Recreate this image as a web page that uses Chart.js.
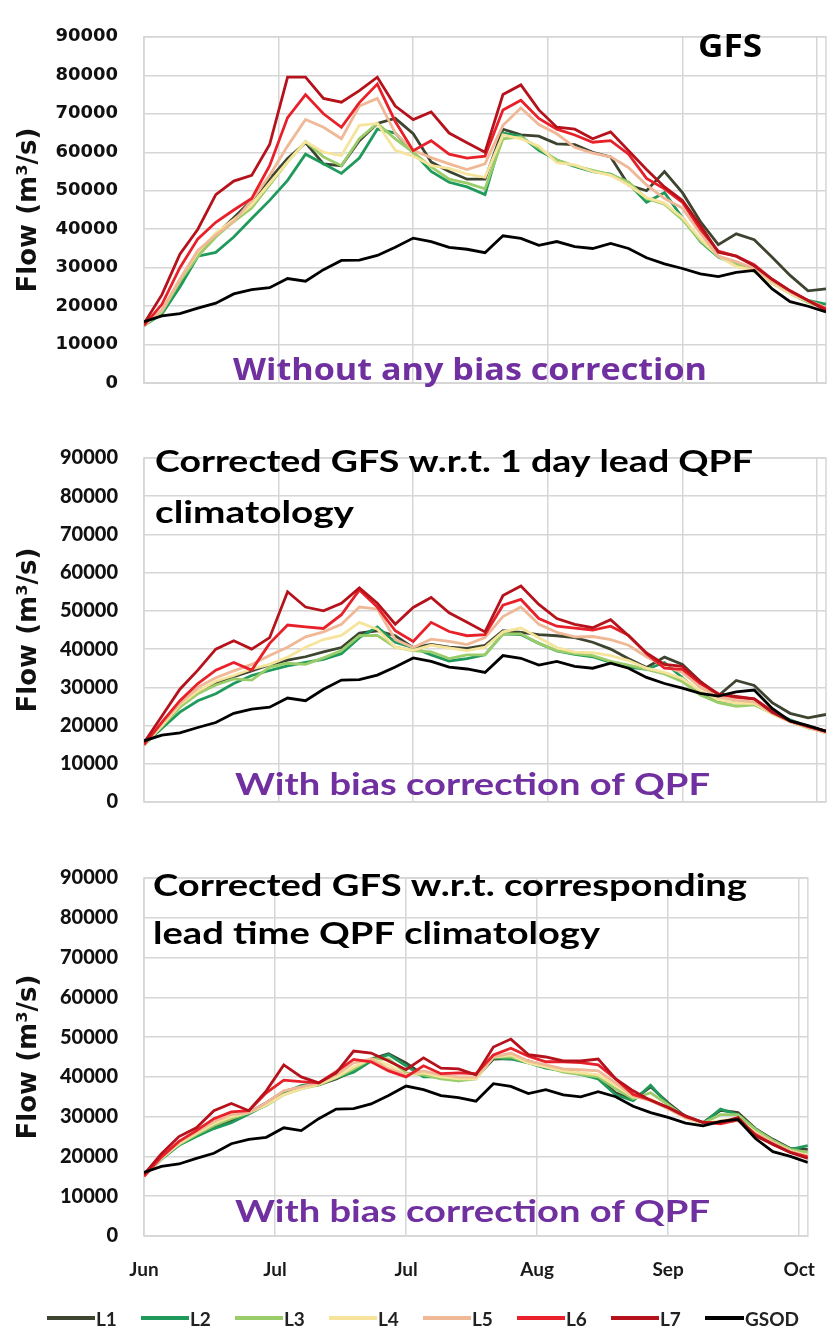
<!DOCTYPE html>
<html>
<head>
<meta charset="utf-8">
<title>Flow forecasts by lead time</title>
<script src="https://cdn.jsdelivr.net/npm/chart.js@4.4.1/dist/chart.umd.min.js"></script>
<style>
  body { margin: 0; background: #fff; width: 837px; height: 1329px; position: relative; overflow: hidden; }
  .panel { position: absolute; left: 0; width: 837px; }
  #legend { position: absolute; left: 47px; top: 1306px; display: flex; font: bold 19px Lato, sans-serif; color: #222; }
  #legend .item { width: 94px; display: flex; align-items: center; height: 24px; }
  #legend .swatch { width: 48px; height: 4px; margin-right: 1px; }
</style>
</head>
<body>
<div class="panel" style="top:0"><canvas id="rawChart" width="837" height="420"></canvas></div>
<div class="panel" style="top:420px"><canvas id="oneDayChart" width="837" height="420"></canvas></div>
<div class="panel" style="top:840px"><canvas id="leadChart" width="837" height="470"></canvas></div>
<div id="legend"></div>

<script>
// sampling days, counted from 1 June (every 4 days up to 31 Oct)
const days = [0,4,8,12,16,20,24,28,32,36,40,44,48,52,56,60,64,68,72,76,80,84,88,92,96,100,104,108,112,116,120,124,128,132,136,140,144,148,152];
const monthTicks = ['Jun', 'Jul', 'Jul', 'Aug', 'Sep', 'Oct'];
const yTicks = [0,10000,20000,30000,40000,50000,60000,70000,80000,90000];

const seriesNames = ['L1', 'L2', 'L3', 'L4', 'L5', 'L6', 'L7', 'GSOD'];
const seriesColors = ['#3d4530', '#1f9a5c', '#9acd6a', '#f6e39c', '#efb896', '#e8202a', '#b5121b', '#000000'];

// observed flow (m3/s)
const gsod = [16000,17500,18100,19500,20800,23200,24300,24800,27200,26500,29500,31900,32000,33200,35300,37700,36800,35300,34800,33900,38300,37600,35800,36800,35500,35000,36300,35000,32600,31000,29800,28400,27700,28800,29300,24500,21200,20000,18500];

// raw GFS forcing, lead 1..7
const rawL1 = [15000,18500,26500,33500,38500,43000,47500,53000,58400,62500,57000,56500,63000,67500,68800,64800,57500,55000,53000,53000,66000,64500,64200,62200,62000,60000,58800,51500,50000,55000,49500,42000,36000,38800,37300,32700,28000,24000,24500];
const rawL2 = [15000,18000,25000,33000,34000,38000,42800,47500,52700,59500,57000,54500,58500,66000,65000,60000,55000,52200,51000,49000,65000,64200,60500,58000,56300,55000,54300,51900,47000,49500,43000,36800,32800,30800,29300,26000,23500,21500,20500];
const rawL3 = [15000,18500,26500,33000,38000,42000,45500,51500,57500,62800,58800,56500,63500,67500,63500,60000,56200,53000,52000,50500,63500,64000,61000,58000,56500,55300,54200,52300,48000,46500,42500,37000,33000,30800,29000,26000,23300,21000,19500];
const rawL4 = [15000,19000,27000,34000,39000,42500,46300,52000,57500,62800,60000,59200,67000,67500,60500,59000,56500,55800,54300,53500,64500,63500,61600,57300,56700,55000,54000,51500,48200,46800,43000,37500,33000,30300,29300,26000,23300,21300,19300];
const rawL5 = [15000,19000,27000,34500,38500,42000,47500,54000,61600,68500,66500,63500,72000,74000,65000,60500,58600,57000,55500,57000,67000,71500,67200,64800,61300,59800,58800,56000,51500,48000,45500,39000,33000,31600,29800,26500,23700,21500,19700];
const rawL6 = [15000,20500,30000,37500,41800,45000,48000,56500,69000,75000,70000,66500,72900,77700,68000,60400,63000,59500,58500,59000,71000,73500,68800,66000,64500,62600,63000,59500,53200,50500,47000,40000,34300,33000,30800,27000,24000,21500,19300];
const rawL7 = [15500,23000,33500,40000,49000,52500,54000,62000,79500,79500,74000,73000,76000,79500,72000,68500,70500,65000,62500,60000,75000,77500,71000,66500,66000,63500,65300,60400,55500,51000,47500,41000,34000,33000,30500,27000,24000,21500,18900];

// QPF corrected against 1 day lead climatology
const oneDayL1 = [15000,20100,25300,29000,31200,32800,34300,35900,37100,38000,39300,40400,44200,44800,43500,40400,41200,40500,40200,41000,44800,44400,43800,43500,43000,41800,40000,37500,35200,37900,36000,31500,27800,31800,30500,26000,23200,22000,22900];
const oneDayL2 = [15000,19300,23500,26500,28300,31000,33100,34400,35600,36500,37300,38800,43000,45800,41800,40400,38500,36900,37500,38500,44000,43800,41500,39500,38600,38000,36500,35300,34700,36500,32500,28500,26500,25800,25800,23600,21500,19800,18500];
const oneDayL3 = [15000,19800,24800,28300,30600,32200,31900,35300,36300,36000,37700,39600,43500,43600,40500,39600,39300,37500,38500,38500,44000,44000,41500,39600,38800,38300,36800,35800,34700,33500,31500,28000,26000,25000,25400,23200,21000,19400,18300];
const oneDayL4 = [15000,20000,25500,29000,31600,33100,34800,36000,37900,40500,42500,43600,47000,45200,40500,39700,41000,40300,39600,40500,44500,45500,43000,40400,39200,39100,38300,37000,35000,33900,32300,29000,26800,25800,25800,23000,21000,19500,18100];
const oneDayL5 = [15000,20500,25800,30000,32500,34300,36000,38300,40500,43200,44500,46500,51000,50500,42500,40400,42600,42000,41200,43000,48500,51000,46500,44400,43200,43300,42500,41000,38000,35500,33900,30000,27500,26600,26200,23200,21000,19500,18100];
const oneDayL6 = [15000,20900,26500,31000,34500,36500,34500,41500,46300,45800,45400,49000,55500,51000,44800,42000,47000,44600,43500,43800,51500,53000,48000,46000,45500,45000,46000,43600,38800,35000,34700,31000,28300,27400,27000,23800,21200,19800,18500];
const oneDayL7 = [15500,22500,29500,34500,40000,42200,40000,43000,55000,51000,50000,52000,56000,52000,46500,50900,53500,49500,47000,44500,54000,56500,51700,48000,46500,45600,47700,43500,39000,36000,35500,31500,28200,27600,27000,23500,21200,19800,18500];

// QPF corrected against the matching lead time climatology
const leadL1 = [15000,19500,23200,25500,27500,29000,31000,33500,36300,37500,38000,39500,41500,44500,45800,43500,40500,39800,39300,39800,44500,44600,44000,42500,41800,40800,39800,36000,34200,37500,33500,30000,28500,31600,31000,27000,24300,22000,21800];
const leadL2 = [15000,19300,22800,25000,27000,28500,30700,33000,36000,37800,38500,39800,41200,44000,45600,42800,40000,40000,39000,40000,44800,44500,43500,42200,41500,40600,39500,35500,34000,37900,33000,29800,28300,31900,30500,26800,24000,21800,22700];
const leadL3 = [15000,19500,23000,25500,27800,29500,31000,32800,35500,37000,38000,39800,42000,44500,44500,41000,40500,39500,39000,39500,45000,45000,43500,42500,41200,40600,40000,37000,34500,36000,33000,29800,28400,30500,30500,26800,24000,21800,21000];
const leadL4 = [15000,19500,23200,25800,28300,30000,31000,33000,35500,37000,38200,40000,42500,44500,43000,40500,41000,40000,39500,39500,45000,45500,43500,42500,41500,41000,40500,37800,35000,34500,32000,29600,28300,29000,29500,26000,23500,21400,20200];
const leadL5 = [15000,19700,23600,26200,28800,30500,31000,33500,36500,37500,38500,40500,43500,44500,42000,40500,41500,40500,40000,40000,45000,46000,44000,43000,42000,41800,41500,38500,35200,34000,32000,29800,28500,28500,29000,25800,23500,21300,20000];
const leadL6 = [15000,19900,23800,26500,29500,31200,31500,36000,39200,38800,38500,41300,44400,43800,41500,40000,42800,40800,41000,40800,45500,47200,45200,43800,43800,43600,43000,39500,35600,34200,32300,30000,28600,28200,29200,25500,23000,21000,19900];
const leadL7 = [15500,20700,25000,27200,31500,33300,31500,36500,43000,40000,38500,41000,46500,46000,44000,41800,44800,42200,42000,40500,47500,49500,45600,45000,44000,44000,44500,39500,36500,34100,32300,30200,28500,28500,29800,25200,23100,21000,19500];

const PURPLE = '#7030a0';
const GRID = '#d6d6d6';

function toPoints(values) {
  return values.map((v, i) => ({ x: days[i], y: v }));
}

// outline round the plot area (the right edge has no grid line of its own)
const plotFrame = {
  id: 'plotFrame',
  beforeDatasetsDraw(chart) {
    const { ctx, chartArea: a } = chart;
    ctx.save();
    ctx.strokeStyle = GRID;
    ctx.lineWidth = 1.5;
    ctx.strokeRect(a.left, a.top, a.right - a.left, a.bottom - a.top);
    ctx.restore();
  }
};

// free text inside the plot; width stretches the run to a set length
function makeNotes(items) {
  return {
    id: 'notes',
    afterDraw(chart) {
      const ctx = chart.ctx;
      items.forEach(n => {
        ctx.save();
        ctx.font = n.font;
        ctx.fillStyle = n.color;
        ctx.textBaseline = 'alphabetic';
        const w = ctx.measureText(n.text).width;
        ctx.translate(n.x, n.y);
        if (n.width) ctx.scale(n.width / w, 1);
        ctx.fillText(n.text, 0, 0);
        ctx.restore();
      });
    }
  };
}

function drawPanel(id, series, notes, opts) {
  const datasets = series.map((values, i) => ({
    label: seriesNames[i],
    data: toPoints(values),
    borderColor: seriesColors[i],
    backgroundColor: seriesColors[i],
    borderWidth: 2.8,
    pointRadius: 0,
    tension: 0,
    order: series.length - 1 - i // GSOD on top
  }));

  return new Chart(document.getElementById(id), {
    type: 'line',
    data: { datasets: datasets },
    options: {
      responsive: false,
      animation: false,
      devicePixelRatio: 1,
      layout: { padding: opts.padding },
      plugins: { legend: { display: false }, tooltip: { enabled: false } },
      scales: {
        x: {
          type: 'linear',
          min: 0,
          max: 152,
          border: { display: false },
          grid: { color: GRID, lineWidth: 1.5, drawTicks: false },
          ticks: {
            display: opts.showMonths,
            stepSize: 30,
            includeBounds: false,
            autoSkip: false,
            maxRotation: 0,
            padding: 22,
            color: '#1a1a1a',
            font: { family: 'Lato', size: 19, weight: 'bold' },
            callback: v => monthTicks[v / 30]
          },
          afterFit: s => { s.height = opts.xHeight; }
        },
        y: {
          min: 0,
          max: 90000,
          border: { display: false },
          grid: { color: GRID, lineWidth: 1.5, drawTicks: false },
          afterBuildTicks: s => { s.ticks = yTicks.map(v => ({ value: v })); },
          ticks: {
            padding: 26,
            color: '#111',
            font: opts.tickFont,
            callback: v => String(v)
          },
          title: {
            display: true,
            text: 'Flow (m³/s)',
            color: '#111',
            font: { family: 'DejaVu Sans', size: 26, weight: 'bold' },
            padding: { top: 14, bottom: 0 }
          },
          afterFit: s => { s.width = 144; }
        }
      }
    },
    plugins: [plotFrame, makeNotes(notes)]
  });
}

const wideTicks = { family: 'DejaVu Sans', size: 18, weight: 'bold' };
const narrowTicks = { family: 'Lato', size: 20, weight: '900' };

drawPanel('rawChart',
  [rawL1, rawL2, rawL3, rawL4, rawL5, rawL6, rawL7, gsod],
  [
    { text: 'GFS', x: 698, y: 57, font: 'bold 33px "Open Sans"', color: '#000', width: 64 },
    { text: 'Without any bias correction', x: 233, y: 380, font: 'bold 31px "Open Sans"', color: PURPLE, width: 474 }
  ],
  { padding: { top: 21, right: 11, bottom: 27, left: 0 }, xHeight: 0, showMonths: false, tickFont: wideTicks });

drawPanel('oneDayChart',
  [oneDayL1, oneDayL2, oneDayL3, oneDayL4, oneDayL5, oneDayL6, oneDayL7, gsod],
  [
    { text: 'Corrected GFS w.r.t. 1 day lead QPF', x: 155, y: 52, font: 'bold 31px Lato', color: '#000', width: 598 },
    { text: 'climatology', x: 155, y: 103, font: 'bold 31px Lato', color: '#000', width: 199 },
    { text: 'With bias correction of QPF', x: 235, y: 375, font: 'bold 31px Lato', color: PURPLE, width: 475 }
  ],
  { padding: { top: 21, right: 11, bottom: 29, left: 0 }, xHeight: 0, showMonths: false, tickFont: narrowTicks });

drawPanel('leadChart',
  [leadL1, leadL2, leadL3, leadL4, leadL5, leadL6, leadL7, gsod],
  [
    { text: 'Corrected GFS w.r.t. corresponding', x: 153, y: 56, font: 'bold 31px Lato', color: '#000', width: 594 },
    { text: 'lead time QPF climatology', x: 153, y: 104, font: 'bold 31px Lato', color: '#000', width: 447 },
    { text: 'With bias correction of QPF', x: 235, y: 382, font: 'bold 31px Lato', color: PURPLE, width: 475 }
  ],
  { padding: { top: 23, right: 11, bottom: 24, left: 0 }, xHeight: 50, showMonths: true, tickFont: narrowTicks });

// shared legend under the bottom panel
const legend = document.getElementById('legend');
seriesNames.forEach((name, i) => {
  const item = document.createElement('div');
  item.className = 'item';
  const swatch = document.createElement('span');
  swatch.className = 'swatch';
  swatch.style.background = seriesColors[i];
  item.appendChild(swatch);
  item.appendChild(document.createTextNode(name));
  legend.appendChild(item);
});
</script>
</body>
</html>
